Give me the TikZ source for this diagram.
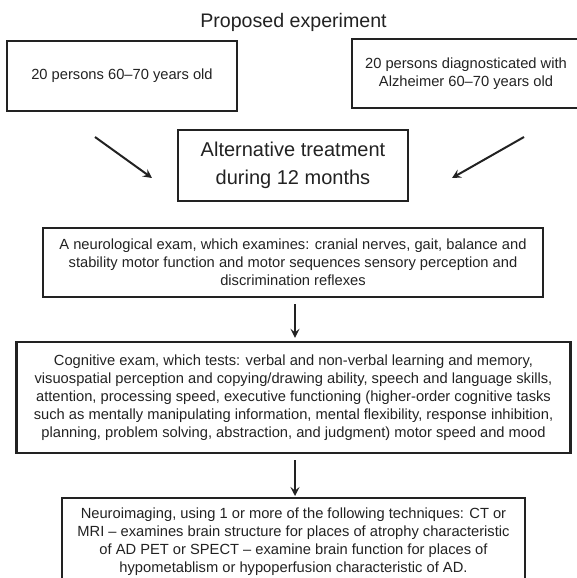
\documentclass[tikz,border=0pt]{standalone}
\usepackage{fontspec}
\setmainfont{Liberation Sans}
\usetikzlibrary{arrows.meta}
\definecolor{ink}{HTML}{222222}
\tikzset{
  box/.style={draw=ink, line width=2.4pt, inner sep=0pt, align=center, text=ink,
    font=\fontsize{14.7}{18}\selectfont},
  bigbox/.style={box, font=\fontsize{20}{28}\selectfont},
  arr/.style={draw=ink, line width=2pt, -{Stealth[length=9pt,width=9pt,inset=3.5pt]}},
}
\begin{document}
\begin{tikzpicture}[x=1pt,y=-1pt]
\useasboundingbox (0,0) rectangle (576,578);
\node[text=ink, font=\fontsize{19.6}{24}\selectfont] (title) at (293.5,22.5) {Proposed experiment};
\node[box, minimum width=230, minimum height=70] (left) at (122,76) {20 persons 60–70 years old};
\node[box, minimum width=228, minimum height=69] (right) at (466,73.5) {20 persons diagnosticated with\\Alzheimer 60–70 years old};
\node[bigbox, minimum width=230, minimum height=71] (alt) at (293,165.5) {Alternative treatment\\during 12 months};
\node[box, minimum width=500, minimum height=69] (neuro) at (293,262.5) {A neurological exam, which examines: cranial nerves, gait, balance and\\stability motor function and motor sequences sensory perception and\\discrimination reflexes};
\node[box, minimum width=554, minimum height=111] (cog) at (293.5,397.5) {Cognitive exam, which tests: verbal and non-verbal learning and memory,\\visuospatial perception and copying/drawing ability, speech and language skills,\\attention, processing speed, executive functioning (higher-order cognitive tasks\\such as mentally manipulating information, mental flexibility, response inhibition,\\planning, problem solving, abstraction, and judgment) motor speed and mood};
\node[box, anchor=north, minimum width=463, minimum height=86] (img) at (293.5,497) {Neuroimaging, using 1 or more of the following techniques: CT or\\MRI – examines brain structure for places of atrophy characteristic\\of AD PET or SPECT – examine brain function for places of\\hypometablism or hypoperfusion characteristic of AD.};
\coordinate (la) at (95,137);
\coordinate (lb) at (152,178);
\coordinate (ra) at (524,137);
\coordinate (rb) at (452,178);
\draw[arr] (la) -- (lb);
\draw[arr] (ra) -- (rb);
\draw[arr, shorten <=6pt, shorten >=3pt] ([xshift=2pt]neuro.south) -- ([xshift=2pt]neuro.south |- cog.north);
\draw[arr, shorten <=6pt, shorten >=1pt] ([xshift=1.5pt]cog.south) -- ([xshift=1.5pt]cog.south |- img.north);
\end{tikzpicture}
\end{document}
